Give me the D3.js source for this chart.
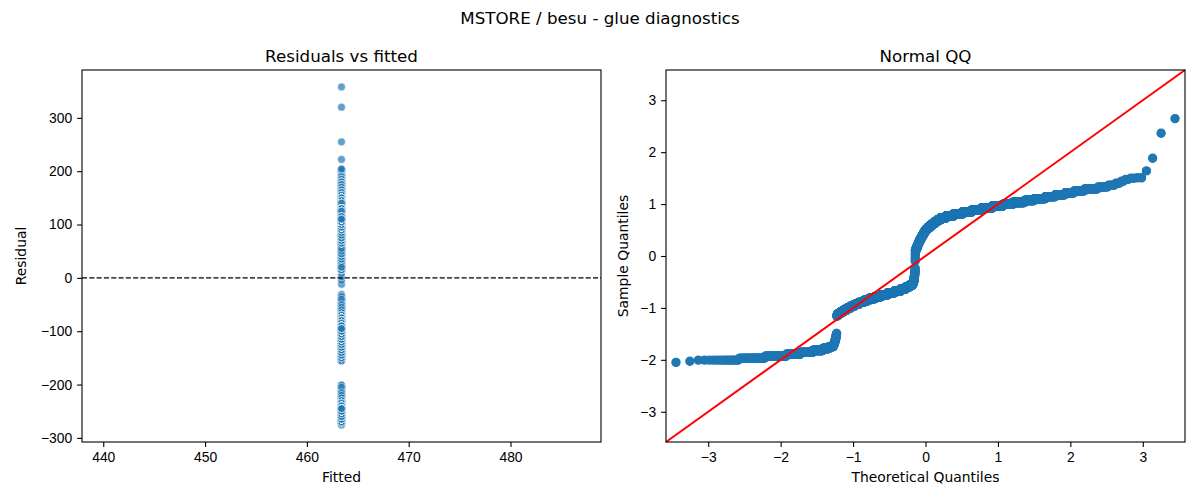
<!DOCTYPE html>
<html>
<head>
<meta charset="utf-8">
<script src="https://cdn.jsdelivr.net/npm/d3@7"></script>
<style>
  body { margin: 0; background: #fff; }
  svg { display: block; font-family: "DejaVu Sans", sans-serif; }
</style>
</head>
<body>
<div id="chart"></div>
<script>
// ---- data ----
const figTitle = 'MSTORE / besu - glue diagnostics';
const panelTitles = ['Residuals vs fitted', 'Normal QQ'];
const fittedValue = 463.4;

// residual value -> how many observations sit at that value
const residualLevels = [
  -276, -273, -270, -265, -260, -255, -250, -245, -240, -235, -230, -225, -220, -215, -210, -205, -201,
  -155, -150, -145, -140, -135, -130, -125, -120, -115, -110, -105, -100, -95, -90, -85, -80, -75, -70, -65,
  -60, -55, -50, -45, -40, -35, -31, -12, -5, 2, 8,
  15, 20, 25, 30, 35, 40, 45, 50, 55, 60, 65, 70, 75, 80, 85, 90, 95, 100,
  105, 110, 115, 120, 125, 130, 135, 140, 145, 150, 155, 160, 165, 170, 175,
  180, 185, 190, 195, 200, 203, 204, 222, 255, 320, 358
];
const residualCounts = [
  1, 1, 15, 29, 49, 50, 62, 65, 48, 34, 8, 6, 5, 4, 3, 3, 2,
  6, 26, 32, 35, 40, 46, 54, 62, 72, 88, 100, 110, 116, 112, 90, 70, 56, 20, 7,
  6, 5, 4, 3, 3, 2, 1, 1, 1, 1, 1,
  12, 16, 15, 15, 16, 17, 21, 21, 21, 20, 26, 36, 43, 45, 46, 50, 66, 100,
  138, 155, 149, 145, 145, 124, 101, 101, 68, 62, 43, 34, 24, 21, 19,
  10, 5, 3, 2, 2, 2, 2, 1, 1, 1, 1
];

const fittedTicks = [440, 450, 460, 470, 480];
const residualTicks = [-300, -200, -100, 0, 100, 200, 300];
const qqTicks = [-3, -2, -1, 0, 1, 2, 3];

// ---- layout ----
const W = 1200, H = 500;
const left = { x: 82, y: 70, w: 519, h: 372 };
const right = { x: 666, y: 70, w: 519, h: 372 };
const blue = '#1f77b4';
const tickFont = '13.9px';

// inverse normal CDF (Acklam)
function normPpf(p) {
  const a = [-3.969683028665376e+01, 2.209460984245205e+02, -2.759285104469687e+02,
             1.383577518672690e+02, -3.066479806614716e+01, 2.506628277459239e+00];
  const b = [-5.447609879822406e+01, 1.615858368580409e+02, -1.556989798598866e+02,
             6.680131188771972e+01, -1.328068155288572e+01];
  const c = [-7.784894002430293e-03, -3.223964580411365e-01, -2.400758277161838e+00,
             -2.549732539343734e+00, 4.374664141464968e+00, 2.938163982698783e+00];
  const d = [7.784695709041462e-03, 3.224671290700398e-01, 2.445134137142996e+00,
             3.754408661907416e+00];
  const pl = 0.02425;
  let q, r;
  if (p < pl) {
    q = Math.sqrt(-2 * Math.log(p));
    return (((((c[0]*q+c[1])*q+c[2])*q+c[3])*q+c[4])*q+c[5]) / ((((d[0]*q+d[1])*q+d[2])*q+d[3])*q+1);
  }
  if (p > 1 - pl) {
    q = Math.sqrt(-2 * Math.log(1 - p));
    return -(((((c[0]*q+c[1])*q+c[2])*q+c[3])*q+c[4])*q+c[5]) / ((((d[0]*q+d[1])*q+d[2])*q+d[3])*q+1);
  }
  q = p - 0.5; r = q * q;
  return (((((a[0]*r+a[1])*r+a[2])*r+a[3])*r+a[4])*r+a[5])*q / (((((b[0]*r+b[1])*r+b[2])*r+b[3])*r+b[4])*r+1);
}

// expand the table, interleaving levels so draw order is mixed
const residuals = [];
const maxCount = d3.max(residualCounts);
for (let pass = 0; pass < maxCount; pass++) {
  residualLevels.forEach((v, i) => { if (residualCounts[i] > pass) residuals.push(v); });
}

const svg = d3.select('#chart').append('svg')
  .attr('width', W).attr('height', H)
  .attr('viewBox', [0, 0, W, H]);

function styleAxis(sel) {
  sel.select('.domain').remove();
  sel.selectAll('.tick line').attr('stroke', '#000').attr('stroke-width', 1.1);
  sel.selectAll('.tick text').attr('fill', '#000').style('font-size', tickFont);
}

function frame(g, p) {
  g.append('rect')
    .attr('width', p.w).attr('height', p.h)
    .attr('fill', 'none').attr('stroke', '#000').attr('stroke-width', 1.1);
}

svg.append('text')
  .attr('x', W / 2).attr('y', 24)
  .attr('text-anchor', 'middle')
  .style('font-size', '16.7px')
  .text(figTitle);

// ---- left: residuals vs fitted ----
{
  const g = svg.append('g').attr('transform', `translate(${left.x},${left.y})`);
  // matplotlib-style autoscale of a single x value
  const x0 = fittedValue * 0.95, x1 = fittedValue * 1.05, xm = (x1 - x0) * 0.05;
  const x = d3.scaleLinear().domain([x0 - xm, x1 + xm]).range([0, left.w]);
  const [rmin, rmax] = d3.extent(residuals);
  const ym = (rmax - rmin) * 0.05;
  const y = d3.scaleLinear().domain([rmin - ym, rmax + ym]).range([left.h, 0]);

  g.selectAll('circle').data(residuals).join('circle')
    .attr('cx', x(fittedValue))
    .attr('cy', d => y(d))
    .attr('r', 3.9)
    .attr('fill', blue).attr('fill-opacity', 0.7)
    .attr('stroke', '#fff').attr('stroke-opacity', 0.7).attr('stroke-width', 0.7);

  g.append('line')
    .attr('x1', 0).attr('x2', left.w)
    .attr('y1', y(0)).attr('y2', y(0))
    .attr('stroke', '#000').attr('stroke-width', 1.39)
    .attr('stroke-dasharray', '5.1,2.2');

  g.append('g').attr('transform', `translate(0,${left.h})`)
    .call(d3.axisBottom(x).tickValues(fittedTicks).tickFormat(d3.format('d')).tickSize(4.9).tickPadding(4.9))
    .call(styleAxis);
  g.append('g')
    .call(d3.axisLeft(y).tickValues(residualTicks).tickFormat(d3.format('d')).tickSize(4.9).tickPadding(4.9))
    .call(styleAxis);
  frame(g, left);

  g.append('text').attr('x', left.w / 2).attr('y', -8.3)
    .attr('text-anchor', 'middle').style('font-size', '16.7px').text(panelTitles[0]);
  g.append('text').attr('x', left.w / 2).attr('y', 412)
    .attr('text-anchor', 'middle').style('font-size', tickFont).text('Fitted');
  g.append('text')
    .attr('transform', `translate(${26.3 - left.x},${left.h / 2}) rotate(-90)`)
    .attr('text-anchor', 'middle').style('font-size', tickFont).text('Residual');
}

// ---- right: normal QQ ----
{
  const g = svg.append('g').attr('transform', `translate(${right.x},${right.y})`);
  const sorted = residuals.slice().sort(d3.ascending);
  const n = sorted.length;
  const mean = d3.mean(sorted);
  const sd = Math.sqrt(d3.mean(sorted, v => (v - mean) ** 2));
  const qq = sorted.map((v, i) => ({ t: normPpf((i + 1) / (n + 1)), s: (v - mean) / sd }));

  const [tmin, tmax] = d3.extent(qq, d => d.t);
  const [smin, smax] = d3.extent(qq, d => d.s);
  const xm = (tmax - tmin) * 0.02, ym = (smax - smin) * 0.05;
  const lo = Math.min(tmin - xm, smin - ym), hi = Math.max(tmax + xm, smax + ym);
  const x = d3.scaleLinear().domain([lo, hi]).range([0, right.w]);
  const y = d3.scaleLinear().domain([lo, hi]).range([right.h, 0]);

  g.selectAll('circle').data(qq).join('circle')
    .attr('cx', d => x(d.t))
    .attr('cy', d => y(d.s))
    .attr('r', 4.1)
    .attr('fill', blue).attr('stroke', blue).attr('stroke-width', 1.2);

  g.append('line')
    .attr('x1', x(lo)).attr('y1', y(lo))
    .attr('x2', x(hi)).attr('y2', y(hi))
    .attr('stroke', '#ff0000').attr('stroke-width', 2);

  g.append('g').attr('transform', `translate(0,${right.h})`)
    .call(d3.axisBottom(x).tickValues(qqTicks).tickFormat(d3.format('d')).tickSize(4.9).tickPadding(4.9))
    .call(styleAxis);
  g.append('g')
    .call(d3.axisLeft(y).tickValues(qqTicks).tickFormat(d3.format('d')).tickSize(4.9).tickPadding(4.9))
    .call(styleAxis);
  frame(g, right);

  g.append('text').attr('x', right.w / 2).attr('y', -8.3)
    .attr('text-anchor', 'middle').style('font-size', '16.7px').text(panelTitles[1]);
  g.append('text').attr('x', right.w / 2).attr('y', 412)
    .attr('text-anchor', 'middle').style('font-size', tickFont).text('Theoretical Quantiles');
  g.append('text')
    .attr('transform', `translate(${627.5 - right.x},${right.h / 2}) rotate(-90)`)
    .attr('text-anchor', 'middle').style('font-size', tickFont).text('Sample Quantiles');
}
</script>
</body>
</html>
